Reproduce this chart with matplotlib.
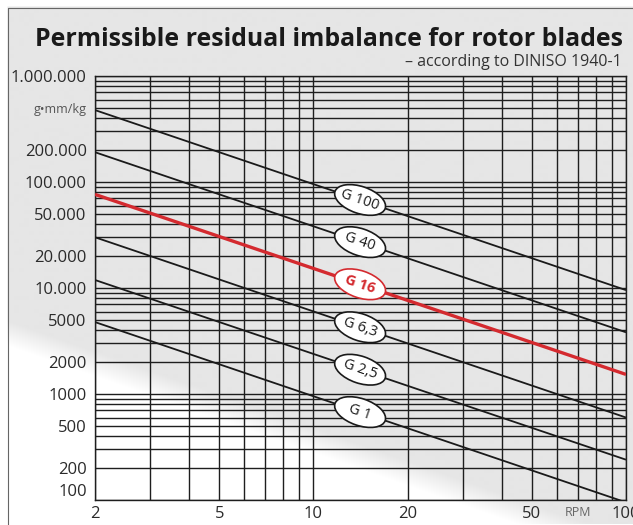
import numpy as np
import matplotlib
matplotlib.use("Agg")
import matplotlib.pyplot as plt
from matplotlib.patches import Rectangle, Ellipse
from matplotlib.transforms import IdentityTransform

# balance quality grades, values read at 2 and 100 RPM (g*mm/kg)
grades = ["G 100", "G 40", "G 16", "G 6,3", "G 2,5", "G 1"]
rpm_ends = [2, 100]
e_at_2 = [477000, 191000, 76400, 30100, 11900, 4770]
e_at_100 = [9550, 3820, 1530, 600, 240, 95]
label_rpm = 14.1

y_ticks = [100, 200, 500, 1000, 2000, 5000, 1e4, 2e4, 5e4, 1e5, 2e5, 5e5, 1e6]
y_labels = ["100", "200", "500", "1000", "2000", "5000", "10.000", "20.000",
            "50.000", "100.000", "200.000", "g\u2022mm/kg", "1.000.000"]
x_ticks = [2, 5, 10, 20, 50, 70, 100]
x_labels = ["2", "5", "10", "20", "50", "RPM", "100"]

W, H = 633, 525
plt.rcParams["font.family"] = ["Open Sans", "DejaVu Sans"]
fig = plt.figure(figsize=(W / 100, H / 100), dpi=100)

# --- background: grey panel with soft white diagonal band bottom-left ---
bg = fig.add_axes([0, 0, 1, 1], zorder=-5)
yy, xx = np.mgrid[0:H, 0:W]
d = (yy - (325 + 0.35 * xx)) / np.hypot(1, 0.35)
t = np.clip((d + 6) / 24, 0, 1)
img = 0.9 + (1 - 0.9) * t
img[(xx < 8) | (yy < 8)] = 1.0
bg.imshow(img, cmap="gray", vmin=0, vmax=1, aspect="auto", interpolation="bilinear")
bg.add_patch(Rectangle((7.5, 7.5), W, H, fill=False, ec="#666666", lw=0.8))
bg.set_xlim(0, W)
bg.set_ylim(H, 0)
bg.axis("off")

fig.text(35 / W, 1 - 40 / H, "Permissible residual imbalance for rotor blades",
         fontsize=17.9, fontweight="bold", color="#1a1a1a", va="center", ha="left")
fig.text(622 / W, 1 - 62 / H, "\u2013 according to DINISO 1940-1",
         fontsize=11.5, color="#333333", va="center", ha="right")

# --- chart ---
ax = fig.add_axes([95 / W, 25 / H, 531 / W, 424 / H])
ax.patch.set_alpha(0)
ax.set_xscale("log")
ax.set_yscale("log")
ax.set_xlim(2, 100)
ax.set_ylim(100, 1e6)

xgrid = list(range(2, 10)) + list(range(10, 101, 10))
ygrid = [m * 10 ** k for k in range(2, 6) for m in range(1, 10)] + [1e6]
for v in xgrid:
    ax.axvline(v, color="#1e1e1e", lw=1.0, zorder=1)
for v in ygrid:
    ax.axhline(v, color="#1e1e1e", lw=1.0, zorder=1)

for sp in ax.spines.values():
    sp.set_color("#1e1e1e")
    sp.set_linewidth(1.0)

ax.set_yticks(y_ticks, y_labels)
ax.set_xticks(x_ticks, x_labels)
ax.minorticks_off()
ax.tick_params(length=0, labelsize=12, colors="#2a2a2a")
ax.tick_params(axis="y", pad=6)
ax.tick_params(axis="x", pad=4)
for lab in ax.get_yticklabels():
    if lab.get_text() == "g\u2022mm/kg":
        lab.set_fontsize(9)
        lab.set_color("#555555")
    if lab.get_text() == "100":
        lab.set_va("bottom")
for lab in ax.get_xticklabels():
    if lab.get_text() == "RPM":
        lab.set_fontsize(9)
        lab.set_color("#666666")

for g, e0, e1 in zip(grades, e_at_2, e_at_100):
    red = g == "G 16"
    col = "#d42a2f" if red else "#1a1a1a"
    ax.plot(rpm_ends, [e0, e1], color=col, lw=2.4 if red else 1.3, zorder=3,
            solid_capstyle="butt")
    p0 = ax.transData.transform((rpm_ends[0], e0))
    p1 = ax.transData.transform((rpm_ends[1], e1))
    ang = np.degrees(np.arctan2(p1[1] - p0[1], p1[0] - p0[0]))
    f = np.log(label_rpm / rpm_ends[0]) / np.log(rpm_ends[1] / rpm_ends[0])
    ey = np.exp(np.log(e0) + f * (np.log(e1) - np.log(e0)))
    centre = ax.transData.transform((label_rpm, ey))
    ax.add_patch(Ellipse(centre, 53, 27, angle=ang, fc="white", ec=col, lw=1.2,
                         transform=IdentityTransform(), zorder=4))
    ax.text(label_rpm, ey, g, rotation=ang, rotation_mode="anchor",
            ha="center", va="center", fontsize=10.5,
            fontweight="bold" if red else "normal", color=col, zorder=5)

fig.savefig("out.png", dpi=100)
